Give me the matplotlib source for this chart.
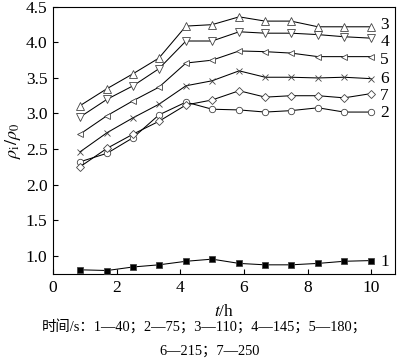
import matplotlib
matplotlib.use("Agg")
import matplotlib.pyplot as plt

# time (h) of each measurement
t_h = [0.85, 1.7, 2.52, 3.33, 4.18, 5.0, 5.85, 6.67, 7.48, 8.33, 9.15, 10.0]

# rho_i / rho_0 for each treatment time (curve label -> values)
rho_1 = [0.80, 0.79, 0.84, 0.87, 0.92, 0.95, 0.89, 0.87, 0.87, 0.89, 0.92, 0.93]
rho_2 = [2.32, 2.44, 2.66, 2.98, 3.16, 3.06, 3.05, 3.02, 3.04, 3.08, 3.02, 3.02]
rho_3 = [3.11, 3.35, 3.56, 3.78, 4.23, 4.25, 4.36, 4.30, 4.30, 4.22, 4.22, 4.22]
rho_4 = [2.95, 3.20, 3.39, 3.63, 4.02, 4.02, 4.15, 4.13, 4.13, 4.11, 4.08, 4.06]
rho_5 = [2.71, 2.97, 3.18, 3.37, 3.71, 3.75, 3.88, 3.87, 3.85, 3.80, 3.80, 3.80]
rho_6 = [2.46, 2.73, 2.94, 3.13, 3.39, 3.46, 3.60, 3.51, 3.51, 3.50, 3.51, 3.49]
rho_7 = [2.25, 2.51, 2.71, 2.89, 3.12, 3.19, 3.32, 3.23, 3.25, 3.25, 3.22, 3.28]

series_labels = ["1", "2", "3", "4", "5", "6", "7"]
series_values = [rho_1, rho_2, rho_3, rho_4, rho_5, rho_6, rho_7]

caption_1 = "时间/s：1—40；2—75；3—110；4—145；5—180；"
caption_2 = "6—215；7—250"

plt.rcParams["font.family"] = ["Liberation Serif", "Noto Sans CJK SC"]
plt.rcParams["mathtext.fontset"] = "stix"

# marker style per curve
styles = {
    "1": dict(marker="s", mfc="black", ms=4.0),
    "2": dict(marker="o", mfc="white", ms=4.6),
    "3": dict(marker="^", mfc="white", ms=5.2),
    "4": dict(marker="v", mfc="white", ms=5.2),
    "5": dict(marker="<", mfc="white", ms=4.8),
    "6": dict(marker="x", mfc="white", ms=4.8),
    "7": dict(marker="D", mfc="white", ms=3.6),
}
# small vertical nudges (pixels) for the end labels
label_dy = {"1": -1, "2": -1, "3": 2, "4": -4, "5": -3, "6": 0, "7": -2}

fig = plt.figure(figsize=(4.0, 3.63), dpi=100)
ax = fig.add_axes([0.1325, 0.245, 0.855, 0.736])

for lab, vals in zip(series_labels, series_values):
    st = styles[lab]
    ax.plot(t_h, vals, color="black", lw=0.75, marker=st["marker"], ms=st["ms"],
            mfc=st["mfc"], mec="#444444", mew=0.6, zorder=3)
    ax.annotate(lab, (t_h[-1], vals[-1]), xytext=(9, label_dy[lab]),
                textcoords="offset pixels", ha="left", va="center", fontsize=12.5)

ax.set_xlim(0, 10.75)
ax.set_ylim(0.74, 4.5)
ax.set_xticks([0, 2, 4, 6, 8, 10])
ax.set_yticks([1.0, 1.5, 2.0, 2.5, 3.0, 3.5, 4.0, 4.5])
ax.set_yticklabels(["1.0", "1.5", "2.0", "2.5", "3.0", "3.5", "4.0", "4.5"])
ax.tick_params(direction="in", length=3.5, width=0.8, labelsize=12.5, pad=4)
for sp in ax.spines.values():
    sp.set_linewidth(0.8)

ax.set_xlabel(r"$t$/h", fontsize=12.5, labelpad=6)
ax.set_ylabel(r"$\rho_{\rm i}/\rho_0$", fontsize=13, labelpad=2)

fig.text(0.511, 0.102, caption_1, ha="center", va="center", fontsize=10.4)
fig.text(0.525, 0.033, caption_2, ha="center", va="center", fontsize=10.4)

fig.savefig("out.png", dpi=100)
